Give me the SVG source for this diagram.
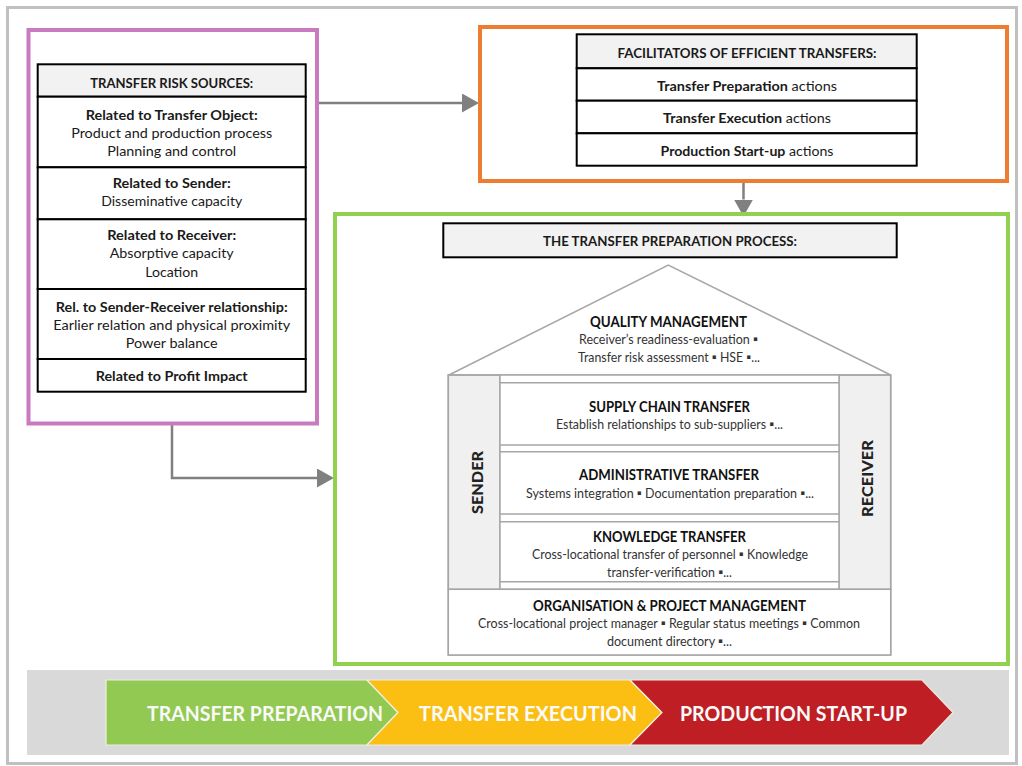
<svg xmlns="http://www.w3.org/2000/svg" width="1022" height="766" viewBox="0 0 1022 766">
<defs>
<style>
text { font-family: Lato, "Liberation Sans", "DejaVu Sans", sans-serif; fill: #1a1a1a; text-anchor: middle; }
.b { font-weight: bold; }
.t { font-size: 13.5px; }
.h { font-size: 13px; font-weight: bold; }
.cell { fill: #ffffff; stroke: #000000; stroke-width: 2; }
.head { fill: #f2f2f2; stroke: #000000; stroke-width: 2; }
.hl { fill: none; stroke: #a6a6a6; stroke-width: 1.5; }
.col { fill: #f0f0f0; stroke: #a6a6a6; stroke-width: 1.5; }
.ht { font-size: 16px; font-weight: bold; fill: #111; }
.hd { font-size: 13.5px; fill: #333; }
.side { font-size: 15px; font-weight: 900; fill: #222; }
.conn { stroke: #808080; stroke-width: 2.5; fill: none; }
.chev { stroke: #eeeedd; stroke-width: 1.2; }
.ct { font-size: 21px; font-weight: bold; fill: #fafafa; }
</style>
<marker id="arr" viewBox="0 0 17 19" refX="0" refY="9.5" markerWidth="17" markerHeight="19" markerUnits="userSpaceOnUse" orient="auto">
<path d="M0,0 L17,9.5 L0,19 Z" fill="#808080"/>
</marker>
</defs>

<rect x="0" y="0" width="1022" height="766" fill="#ffffff"/>
<rect id="frame" x="7.5" y="7.5" width="1009" height="756" fill="#ffffff" stroke="#c0c0c0" stroke-width="3"/>

<g id="connectors">
<path class="conn" d="M319,103 H462" marker-end="url(#arr)"/>
<path class="conn" d="M743.5,183 V199.5" marker-end="url(#arr)"/>
<path class="conn" d="M172,425 V478 H317" marker-end="url(#arr)"/>
</g>

<g id="risk-sources">
<rect x="28.5" y="30" width="288.5" height="393.5" fill="none" stroke="#c97bbf" stroke-width="4"/>
<rect class="head" x="37.7" y="64.3" width="268" height="32.4"/>
<rect class="cell" x="37.7" y="96.7" width="268" height="70.6"/>
<rect class="cell" x="37.7" y="167.3" width="268" height="52"/>
<rect class="cell" x="37.7" y="219.3" width="268" height="69.7"/>
<rect class="cell" x="37.7" y="289" width="268" height="70"/>
<rect class="cell" x="37.7" y="359" width="268" height="32.7"/>
<text class="h" x="171.7" y="87.5" textLength="163" lengthAdjust="spacingAndGlyphs">TRANSFER RISK SOURCES:</text>
<text class="t b" x="171.7" y="119.5" textLength="172" lengthAdjust="spacingAndGlyphs">Related to Transfer Object:</text>
<text class="t" x="171.7" y="137.5" textLength="201" lengthAdjust="spacingAndGlyphs">Product and production process</text>
<text class="t" x="171.7" y="155.5" textLength="129" lengthAdjust="spacingAndGlyphs">Planning and control</text>
<text class="t b" x="171.7" y="187.5" textLength="118" lengthAdjust="spacingAndGlyphs">Related to Sender:</text>
<text class="t" x="171.7" y="206" textLength="141" lengthAdjust="spacingAndGlyphs">Disseminative capacity</text>
<text class="t b" x="171.7" y="239.5" textLength="129" lengthAdjust="spacingAndGlyphs">Related to Receiver:</text>
<text class="t" x="171.7" y="257.5" textLength="124" lengthAdjust="spacingAndGlyphs">Absorptive capacity</text>
<text class="t" x="171.7" y="276.5" textLength="53" lengthAdjust="spacingAndGlyphs">Location</text>
<text class="t b" x="171.7" y="311.5" textLength="232" lengthAdjust="spacingAndGlyphs">Rel. to Sender-Receiver relationship:</text>
<text class="t" x="171.7" y="329.5" textLength="237" lengthAdjust="spacingAndGlyphs">Earlier relation and physical proximity</text>
<text class="t" x="171.7" y="347.5" textLength="92" lengthAdjust="spacingAndGlyphs">Power balance</text>
<text class="t b" x="171.7" y="380.5" textLength="152" lengthAdjust="spacingAndGlyphs">Related to Profit Impact</text>
</g>

<g id="facilitators">
<rect x="480" y="27" width="527" height="154" fill="none" stroke="#ed7d31" stroke-width="4"/>
<rect class="head" x="576.7" y="34.3" width="340" height="34"/>
<rect class="cell" x="576.7" y="68.3" width="340" height="32.4"/>
<rect class="cell" x="576.7" y="100.7" width="340" height="32.6"/>
<rect class="cell" x="576.7" y="133.3" width="340" height="32.4"/>
<text class="h" x="747" y="57.5" textLength="259" lengthAdjust="spacingAndGlyphs">FACILITATORS OF EFFICIENT TRANSFERS:</text>
<text class="t" x="747" y="90.5" textLength="180" lengthAdjust="spacingAndGlyphs"><tspan class="b">Transfer Preparation</tspan> actions</text>
<text class="t" x="747" y="122.5" textLength="168" lengthAdjust="spacingAndGlyphs"><tspan class="b">Transfer Execution</tspan> actions</text>
<text class="t" x="747" y="155.5" textLength="173" lengthAdjust="spacingAndGlyphs"><tspan class="b">Production Start-up</tspan> actions</text>
</g>

<g id="preparation-process">
<rect x="335" y="214" width="673" height="450" fill="none" stroke="#92d050" stroke-width="4"/>
<rect class="head" x="443.3" y="223.3" width="453.4" height="34"/>
<text class="h" x="670" y="245.5" font-size="13.5" textLength="254" lengthAdjust="spacingAndGlyphs">THE TRANSFER PREPARATION PROCESS:</text>
</g>

<g id="house">
<polyline class="hl" points="449,375 668.3,265 890.7,375"/>
<rect class="col" x="448.3" y="375" width="51.7" height="214.3"/>
<rect class="col" x="839" y="375" width="51.7" height="214.3"/>
<rect class="hl" x="448.3" y="375" width="442.4" height="280" fill="none"/>
<rect x="500" y="375" width="339" height="214.3" fill="#ffffff" stroke="#a6a6a6" stroke-width="1.5"/>
<line class="hl" x1="500" y1="382.7" x2="839" y2="382.7"/>
<line class="hl" x1="500" y1="445" x2="839" y2="445"/>
<line class="hl" x1="500" y1="451.7" x2="839" y2="451.7"/>
<line class="hl" x1="500" y1="514" x2="839" y2="514"/>
<line class="hl" x1="500" y1="521.7" x2="839" y2="521.7"/>
<line class="hl" x1="500" y1="581.7" x2="839" y2="581.7"/>
<rect x="448.3" y="589.3" width="442.4" height="65.7" fill="#ffffff" stroke="#a6a6a6" stroke-width="1.5"/>

<g id="quality-management">
<text class="ht" x="668.5" y="327" textLength="157" lengthAdjust="spacingAndGlyphs">QUALITY MANAGEMENT</text>
<text class="hd" x="668.5" y="343.5" textLength="179" lengthAdjust="spacingAndGlyphs">Receiver’s readiness-evaluation ▪</text>
<text class="hd" x="669" y="361.5" textLength="182" lengthAdjust="spacingAndGlyphs">Transfer risk assessment ▪ HSE ▪...</text>
</g>
<g id="supply-chain">
<text class="ht" x="669.5" y="412" textLength="161" lengthAdjust="spacingAndGlyphs">SUPPLY CHAIN TRANSFER</text>
<text class="hd" x="669.5" y="428.5" textLength="227" lengthAdjust="spacingAndGlyphs">Establish relationships to sub-suppliers ▪...</text>
</g>
<g id="administrative">
<text class="ht" x="669" y="480" textLength="180" lengthAdjust="spacingAndGlyphs">ADMINISTRATIVE TRANSFER</text>
<text class="hd" x="670" y="497.5" textLength="288" lengthAdjust="spacingAndGlyphs">Systems integration ▪ Documentation preparation ▪...</text>
</g>
<g id="knowledge">
<text class="ht" x="669.5" y="542" textLength="153" lengthAdjust="spacingAndGlyphs">KNOWLEDGE TRANSFER</text>
<text class="hd" x="670" y="558.5" textLength="276" lengthAdjust="spacingAndGlyphs">Cross-locational transfer of personnel ▪ Knowledge</text>
<text class="hd" x="669.5" y="576.5" textLength="125" lengthAdjust="spacingAndGlyphs">transfer-verification ▪...</text>
</g>
<g id="organisation">
<text class="ht" x="669.5" y="611" textLength="273" lengthAdjust="spacingAndGlyphs">ORGANISATION &amp; PROJECT MANAGEMENT</text>
<text class="hd" x="669" y="627.5" textLength="382" lengthAdjust="spacingAndGlyphs">Cross-locational project manager ▪ Regular status meetings ▪ Common</text>
<text class="hd" x="669.5" y="645.5" textLength="125" lengthAdjust="spacingAndGlyphs">document directory ▪...</text>
</g>
<g id="sender">
<text class="side" transform="translate(482.5,482.5) rotate(-90)" x="0" y="0" textLength="63" lengthAdjust="spacingAndGlyphs">SENDER</text>
</g>
<g id="receiver">
<text class="side" transform="translate(872.5,478.5) rotate(-90)" x="0" y="0" textLength="77" lengthAdjust="spacingAndGlyphs">RECEIVER</text>
</g>
</g>

<g id="phases">
<rect x="27" y="670" width="982" height="85" fill="#d9d9d9"/>
<g id="phase-preparation">
<polygon class="chev" points="106,680 367,680 398,712.5 367,745 106,745" fill="#92c952"/>
<text class="ct" x="265" y="721" textLength="236" lengthAdjust="spacingAndGlyphs">TRANSFER PREPARATION</text>
</g>
<g id="phase-execution">
<polygon class="chev" points="367,680 630,680 662,712.5 630,745 367,745 398,712.5" fill="#fbbf14"/>
<text class="ct" x="528" y="721" textLength="218" lengthAdjust="spacingAndGlyphs">TRANSFER EXECUTION</text>
</g>
<g id="phase-startup">
<polygon class="chev" points="630,680 922,680 953,712.5 922,745 630,745 662,712.5" fill="#be1e24"/>
<text class="ct" x="793.5" y="721" textLength="227" lengthAdjust="spacingAndGlyphs">PRODUCTION START-UP</text>
</g>
</g>
</svg>
